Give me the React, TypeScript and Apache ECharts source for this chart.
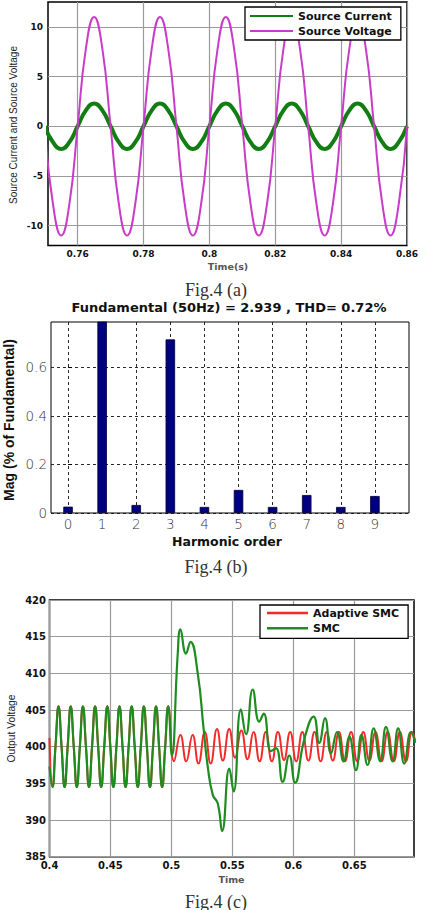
import React, { useEffect, useRef } from "react";
import * as echarts from "echarts";

// ---------- Fig.4 (a): source current / source voltage ----------
const waveTime = [
  0.75, 0.7525, 0.755, 0.7575, 0.76, 0.7625, 0.765, 0.7675, 0.77, 0.7725,
  0.775, 0.7775, 0.78, 0.7825, 0.785, 0.7875, 0.79, 0.7925, 0.795, 0.7975,
  0.8, 0.8025, 0.805, 0.8075, 0.81, 0.8125, 0.815, 0.8175, 0.82, 0.8225,
  0.825, 0.8275, 0.83, 0.8325, 0.835, 0.8375, 0.84, 0.8425, 0.845, 0.8475,
  0.85, 0.8525, 0.855, 0.8575, 0.86,
];
const sourceVoltage = [
  0, -7.8, -11, -7.8, 0, 7.8, 11, 7.8, 0, -7.8,
  -11, -7.8, 0, 7.8, 11, 7.8, 0, -7.8, -11, -7.8,
  0, 7.8, 11, 7.8, 0, -7.8, -11, -7.8, 0, 7.8,
  11, 7.8, 0, -7.8, -11, -7.8, 0, 7.8, 11, 7.8,
  0, -7.8, -11, -7.8, 0,
];
const sourceCurrent = [
  0, -1.6, -2.3, -1.6, 0, 1.6, 2.3, 1.6, 0, -1.6,
  -2.3, -1.6, 0, 1.6, 2.3, 1.6, 0, -1.6, -2.3, -1.6,
  0, 1.6, 2.3, 1.6, 0, -1.6, -2.3, -1.6, 0, 1.6,
  2.3, 1.6, 0, -1.6, -2.3, -1.6, 0, 1.6, 2.3, 1.6,
  0, -1.6, -2.3, -1.6, 0,
];
const timeTicksA = [0.76, 0.78, 0.8, 0.82, 0.84, 0.86];
const ampTicksA = [-10, -5, 0, 5, 10];

// ---------- Fig.4 (b): harmonic spectrum ----------
const harmonicOrder = [0, 1, 2, 3, 4, 5, 6, 7, 8, 9];
const harmonicMag = [0.026, 100, 0.033, 0.715, 0.025, 0.095, 0.025, 0.074, 0.025, 0.07];
const magTicks = [0, 0.2, 0.4, 0.6];

// ---------- Fig.4 (c): output voltage, adaptive SMC vs SMC ----------
// common ripple before the load step at t = 0.5 s
const rippleTime = [
  0.4024, 0.4049, 0.4074, 0.4099,
  0.4124, 0.4149, 0.4174, 0.4199,
  0.4224, 0.4249, 0.4274, 0.4299,
  0.4324, 0.4349, 0.4374, 0.4399,
  0.4424, 0.4449, 0.4474, 0.4499,
  0.4524, 0.4549, 0.4574, 0.4599,
  0.4624, 0.4649, 0.4674, 0.4699,
  0.4724, 0.4749, 0.4774, 0.4799,
  0.4824, 0.4849, 0.4874, 0.4899,
  0.4924, 0.4949, 0.4974,
];
const rippleValue = [
  394.5, 400, 405.5, 400,
  394.5, 400, 405.5, 400,
  394.5, 400, 405.5, 400,
  394.5, 400, 405.5, 400,
  394.5, 400, 405.5, 400,
  394.5, 400, 405.5, 400,
  394.5, 400, 405.5, 400,
  394.5, 400, 405.5, 400,
  394.5, 400, 405.5, 400,
  394.5, 400, 405.5,
];
const adaptiveStart = [0.4, 401.2];
const smcStart = [0.4, 397.3];
const adaptiveAfter = [
  [0.5022, 398.0], [0.5074, 401.6], [0.5122, 398.0], [0.5174, 401.6],
  [0.5222, 397.7], [0.5274, 402.0], [0.5322, 397.7], [0.5374, 402.4],
  [0.5422, 398.1], [0.5474, 402.4], [0.5522, 398.5], [0.5574, 402.2],
  [0.5624, 398.3], [0.5674, 402.0], [0.5724, 398.0], [0.5774, 402.0],
  [0.5824, 398.0], [0.5874, 402.0], [0.5924, 398.2], [0.5974, 402.0],
  [0.6024, 398.0], [0.6074, 402.0], [0.6124, 398.1], [0.6174, 402.0],
  [0.6224, 398.0], [0.6274, 402.0], [0.6324, 398.1], [0.6374, 402.0],
  [0.6424, 398.0], [0.6474, 402.0], [0.6524, 398.0], [0.6574, 402.0],
  [0.6624, 398.1], [0.6674, 402.0], [0.6724, 398.0], [0.6774, 402.0],
  [0.6824, 398.0], [0.6874, 402.0], [0.6924, 398.0], [0.6974, 402.0],
  [0.7, 400.8],
];
const smcAfter = [
  [0.5004, 398.8], [0.5052, 412.7], [0.5074, 416.0], [0.512, 412.7],
  [0.5156, 414.3], [0.5216, 410.0], [0.5265, 402.3], [0.5298, 397.3],
  [0.534, 393.4], [0.538, 392.3], [0.5416, 388.5], [0.5475, 397.0],
  [0.551, 393.9], [0.557, 405.1], [0.5612, 401.7], [0.5667, 407.8],
  [0.5721, 403.4], [0.5757, 404.5], [0.5817, 399.4], [0.5858, 399.8],
  [0.5913, 395.2], [0.5967, 398.8], [0.6014, 395.1], [0.609, 401.0],
  [0.6167, 404.1], [0.6213, 400.5], [0.626, 403.9], [0.6309, 399.1],
  [0.6358, 402.0], [0.6413, 398.0], [0.6459, 401.4], [0.6514, 396.8],
  [0.6559, 401.6], [0.6609, 397.5], [0.6659, 402.5], [0.6713, 398.0],
  [0.676, 402.7], [0.6814, 398.0], [0.686, 402.5], [0.691, 397.7],
  [0.6965, 402.0], [0.7, 400.5],
];
const timeTicksC = [0.4, 0.45, 0.5, 0.55, 0.6, 0.65];
const voltTicksC = [385, 390, 395, 400, 405, 410, 415, 420];

const BOLD = "DejaVu Sans";
const SANS = "Liberation Sans, Arial, sans-serif";
const SERIF = "Liberation Serif, Times New Roman, serif";

function zip(xs: number[], ys: number[]) {
  return xs.map((x, i) => [x, ys[i]]);
}

const plainNum = (v: number) => String(parseFloat(v.toFixed(4)));

export default function App() {
  const ref = useRef<HTMLDivElement>(null);

  useEffect(() => {
    if (!ref.current) return;
    const chart = echarts.init(ref.current, undefined, { renderer: "svg" });

    const ripple = zip(rippleTime, rippleValue);
    const adaptiveData = [adaptiveStart, ...ripple, ...adaptiveAfter];
    const smcData = [smcStart, ...ripple, ...smcAfter];

    const solidGrid = { show: true, lineStyle: { color: "#9a9a9a", width: 1.2 } };
    const dashGrid = { show: true, lineStyle: { color: "#111", width: 0.9, type: [3, 3] } };

    const boldTick = (size: number, margin: number) => ({
      fontFamily: BOLD,
      fontWeight: "bold",
      fontSize: size,
      color: "#111",
      margin,
      formatter: plainNum,
    });

    const text = (
      t: string,
      x: number,
      y: number,
      font: { size: number; family: string; weight?: string; fill?: string },
      rotation = 0
    ) => ({
      type: "text",
      x,
      y,
      rotation,
      silent: true,
      style: {
        text: t,
        fontSize: font.size,
        fontFamily: font.family,
        fontWeight: font.weight || "normal",
        fill: font.fill || "#111",
        textAlign: "center",
        textVerticalAlign: "middle",
        verticalAlign: "middle",
      },
    });

    const legendText = { fontFamily: BOLD, fontWeight: "bold", fontSize: 11, color: "#111", lineHeight: 12 };

    chart.setOption({
      animation: false,
      backgroundColor: "#fff",
      grid: [
        { left: 48, top: 2, width: 359, height: 243.5, show: true, borderColor: "#000", borderWidth: 1.5 },
        { left: 51, top: 322, width: 358, height: 191, show: true, borderColor: "#000", borderWidth: 1 },
        { left: 49.5, top: 600, width: 364.5, height: 256.7, show: true, borderColor: "#000", borderWidth: 1.5 },
      ],
      xAxis: [
        {
          type: "value",
          gridIndex: 0,
          min: 0.751,
          max: 0.86,
          axisLine: { show: false },
          axisTick: { show: false, customValues: timeTicksA },
          axisLabel: { ...boldTick(9, 4), customValues: timeTicksA },
          splitLine: solidGrid,
        },
        {
          type: "value",
          gridIndex: 1,
          min: -0.5,
          max: 10,
          axisLine: { show: false },
          axisTick: { show: true, inside: true, length: 4, customValues: harmonicOrder, lineStyle: { color: "#000" } },
          axisLabel: {
            customValues: harmonicOrder,
            fontFamily: BOLD,
            fontWeight: 200,
            fontSize: 13.5,
            color: "#333",
            margin: 4,
          },
          splitLine: dashGrid,
        },
        {
          type: "value",
          gridIndex: 2,
          min: 0.4,
          max: 0.699,
          axisLine: { show: false },
          axisTick: { show: false, customValues: timeTicksC },
          axisLabel: { ...boldTick(10, 4), customValues: timeTicksC },
          splitLine: solidGrid,
        },
      ],
      yAxis: [
        {
          type: "value",
          gridIndex: 0,
          min: -12,
          max: 12.5,
          axisLine: { show: false },
          axisTick: { show: false, customValues: ampTicksA },
          axisLabel: { ...boldTick(9, 5), customValues: ampTicksA },
          splitLine: solidGrid,
        },
        {
          type: "value",
          gridIndex: 1,
          min: 0,
          max: 0.7866,
          axisLine: { show: false },
          axisTick: { show: true, inside: true, length: 4, customValues: magTicks, lineStyle: { color: "#000" } },
          axisLabel: {
            customValues: magTicks,
            fontFamily: BOLD,
            fontWeight: 200,
            fontSize: 13.5,
            color: "#333",
            margin: 4,
          },
          splitLine: dashGrid,
        },
        {
          type: "value",
          gridIndex: 2,
          min: 385,
          max: 420,
          axisLine: { show: false },
          axisTick: { show: false, customValues: voltTicksC },
          axisLabel: { ...boldTick(10, 3.5), customValues: voltTicksC },
          splitLine: solidGrid,
        },
      ],
      legend: [
        {
          data: ["Source Current", "Source Voltage"],
          orient: "vertical",
          left: 245,
          top: 7,
          padding: [3, 9, 3, 5],
          icon: "rect",
          itemWidth: 43,
          itemHeight: 2,
          itemGap: 3,
          selectedMode: false,
          backgroundColor: "#fff",
          borderColor: "#000",
          borderWidth: 1.3,
          textStyle: legendText,
        },
        {
          data: ["Adaptive SMC", "SMC"],
          orient: "vertical",
          left: 260,
          top: 605,
          padding: [2, 9, 4, 7],
          icon: "rect",
          itemWidth: 41,
          itemHeight: 2.5,
          itemGap: 3.3,
          selectedMode: false,
          backgroundColor: "#fff",
          borderColor: "#000",
          borderWidth: 1.3,
          textStyle: legendText,
        },
      ],
      series: [
        {
          name: "Source Current",
          type: "line",
          xAxisIndex: 0,
          yAxisIndex: 0,
          data: zip(waveTime, sourceCurrent),
          smooth: true,
          symbol: "none",
          lineStyle: { color: "#127d12", width: 4 },
          itemStyle: { color: "#127d12" },
        },
        {
          name: "Source Voltage",
          type: "line",
          xAxisIndex: 0,
          yAxisIndex: 0,
          data: zip(waveTime, sourceVoltage),
          smooth: true,
          symbol: "none",
          lineStyle: { color: "#c83cc8", width: 2 },
          itemStyle: { color: "#c83cc8" },
        },
        {
          name: "Harmonics",
          type: "bar",
          xAxisIndex: 1,
          yAxisIndex: 1,
          data: zip(harmonicOrder, harmonicMag),
          barWidth: 9.5,
          itemStyle: { color: "#000080", borderColor: "#00003a", borderWidth: 0.8 },
        },
        {
          name: "Adaptive SMC",
          type: "line",
          xAxisIndex: 2,
          yAxisIndex: 2,
          data: adaptiveData,
          smooth: true,
          symbol: "none",
          lineStyle: { color: "#f42a2a", width: 2 },
          itemStyle: { color: "#f42a2a" },
        },
        {
          name: "SMC",
          type: "line",
          xAxisIndex: 2,
          yAxisIndex: 2,
          data: smcData,
          smooth: true,
          symbol: "none",
          lineStyle: { color: "#1f8c1f", width: 2.2 },
          itemStyle: { color: "#1f8c1f" },
        },
      ],
      graphic: [
        text("Source Current and Source Voltage", 13, 125, { size: 10, family: SANS, fill: "#222" }, Math.PI / 2),
        text("Time(s)", 228, 266, { size: 9.5, family: BOLD, weight: "bold", fill: "#555" }),
        text("Fig.4 (a)", 216, 290, { size: 18, family: SERIF, fill: "#333" }),
        text("Fundamental (50Hz) = 2.939 , THD= 0.72%", 229, 307, { size: 13, family: BOLD, weight: "bold", fill: "#111" }),
        text("Mag (% of Fundamental)", 8.5, 420, { size: 14, family: SANS, weight: "bold", fill: "#111" }, Math.PI / 2),
        text("Harmonic order", 227, 541.5, { size: 12.5, family: BOLD, weight: "bold", fill: "#111" }),
        text("Fig.4 (b)", 216, 567, { size: 18, family: SERIF, fill: "#333" }),
        text("Output Voltage", 11, 728.5, { size: 10.3, family: SANS, fill: "#222" }, Math.PI / 2),
        text("Time", 231.5, 879, { size: 9.5, family: BOLD, weight: "bold", fill: "#555" }),
        text("Fig.4 (c)", 216, 901.5, { size: 18, family: SERIF, fill: "#333" }),
      ],
    });

    return () => chart.dispose();
  }, []);

  return (
    <div
      ref={ref}
      style={{ position: "absolute", left: 0, top: 0, width: 423, height: 910, background: "#fff" }}
    />
  );
}
